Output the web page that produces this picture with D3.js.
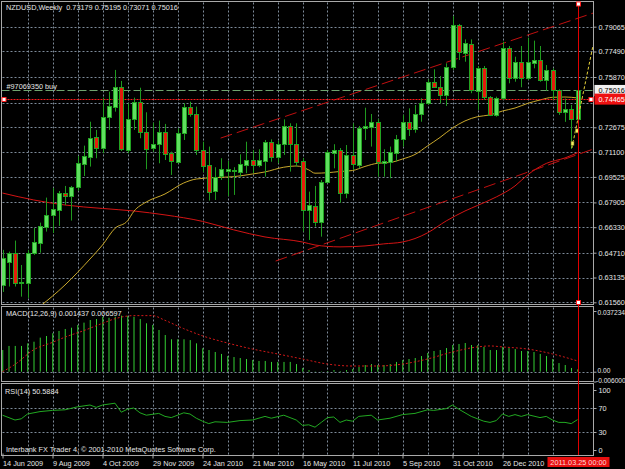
<!DOCTYPE html>
<html>
<head>
<meta charset="utf-8">
<script src="https://cdn.jsdelivr.net/npm/d3@7"></script>
<style>
  body { margin: 0; background: #000; }
  svg { display: block; }
  text { font-family: "Liberation Sans", Arial, sans-serif; font-size: 7.3px; fill: #e6e6e6; }
</style>
</head>
<body>
<svg id="chart" width="625" height="469"></svg>
<script>
// weekly NZDUSD bars, 14 Jun 2009 .. 20 Mar 2011
const open = [0.6266,0.6412,0.6468,0.6279,0.6281,0.6469,0.6535,0.6633,0.6711,0.6743,0.6849,0.6831,0.6887,0.7035,0.7081,0.7204,0.7134,0.7331,0.7399,0.7526,0.7124,0.7318,0.7430,0.7236,0.7134,0.7160,0.7236,0.7103,0.7049,0.7230,0.7395,0.7350,0.7124,0.7028,0.6863,0.6958,0.6993,0.6990,0.6986,0.7028,0.7060,0.7028,0.7056,0.7176,0.7081,0.7162,0.7278,0.7162,0.7054,0.6743,0.6768,0.6668,0.6922,0.7106,0.7124,0.6852,0.7092,0.7028,0.7261,0.7272,0.7303,0.7043,0.7049,0.7106,0.7191,0.7303,0.7255,0.7350,0.7424,0.7557,0.7526,0.7473,0.7653,0.7917,0.7741,0.7797,0.7500,0.7642,0.7462,0.7346,0.7452,0.7773,0.7579,0.7684,0.7579,0.7678,0.7695,0.7568,0.7632,0.7505,0.7367,0.7385,0.73179];
const high = [0.6489,0.6478,0.6548,0.6393,0.6489,0.6628,0.6662,0.6821,0.6882,0.6863,0.6895,0.6895,0.7085,0.7151,0.7303,0.7251,0.7456,0.7494,0.7632,0.7562,0.7420,0.7456,0.7519,0.7363,0.7297,0.7310,0.7289,0.7113,0.7261,0.7420,0.7430,0.7399,0.7176,0.7145,0.7014,0.7071,0.7054,0.7014,0.7096,0.7176,0.7124,0.7128,0.7187,0.7191,0.7183,0.7318,0.7293,0.7293,0.7073,0.6859,0.6895,0.6933,0.7124,0.7160,0.7136,0.7155,0.7293,0.7276,0.7392,0.7352,0.7320,0.7128,0.7145,0.7219,0.7346,0.7388,0.7409,0.7452,0.7572,0.7636,0.7593,0.7674,0.7974,0.7924,0.7826,0.7826,0.7657,0.7657,0.7466,0.7462,0.7811,0.7784,0.7716,0.7784,0.7837,0.7818,0.7784,0.7663,0.7642,0.7509,0.7450,0.7410,0.75195];
const low = [0.6222,0.6256,0.6256,0.6192,0.6184,0.6457,0.6471,0.6605,0.6596,0.6641,0.6774,0.6675,0.6865,0.6958,0.7018,0.7071,0.7103,0.7251,0.7367,0.7117,0.7103,0.7251,0.7198,0.7001,0.7113,0.7039,0.7060,0.6965,0.7039,0.7187,0.7335,0.7092,0.6984,0.6802,0.6806,0.6933,0.6831,0.6838,0.6954,0.6976,0.6976,0.7014,0.6954,0.7049,0.7039,0.7092,0.6986,0.7018,0.6605,0.6552,0.6637,0.6573,0.6912,0.7007,0.6789,0.6817,0.6997,0.7007,0.7187,0.7145,0.6954,0.6954,0.6944,0.7049,0.7145,0.7212,0.7233,0.7303,0.7409,0.7522,0.7420,0.7403,0.7632,0.7695,0.7684,0.7484,0.7378,0.7441,0.7339,0.7335,0.7441,0.7547,0.7557,0.7522,0.7568,0.7642,0.7557,0.7500,0.7441,0.7346,0.7302,0.7130,0.73071];
const close = [0.6438,0.6469,0.6281,0.6285,0.6469,0.6537,0.6641,0.6711,0.6749,0.6849,0.6833,0.6891,0.7039,0.7085,0.7198,0.7134,0.7331,0.7403,0.7524,0.7130,0.7320,0.7430,0.7236,0.7130,0.7160,0.7236,0.7096,0.7054,0.7230,0.7395,0.7350,0.7124,0.7024,0.6859,0.6954,0.7001,0.7000,0.6997,0.7033,0.7060,0.7028,0.7060,0.7176,0.7077,0.7162,0.7278,0.7162,0.7049,0.6743,0.6774,0.6668,0.6922,0.7113,0.7124,0.6852,0.7092,0.7035,0.7265,0.7276,0.7303,0.7049,0.7054,0.7113,0.7191,0.7303,0.7255,0.7350,0.7424,0.7557,0.7526,0.7473,0.7653,0.7917,0.7748,0.7801,0.7505,0.7642,0.7462,0.7346,0.7456,0.7773,0.7579,0.7684,0.7579,0.7684,0.7695,0.7568,0.7632,0.7505,0.7367,0.7385,0.7318,0.75016];

// moving averages, [bar, price]
const maFast = [[6,0.6130],[10,0.6266],[14,0.6431],[16,0.6520],[18,0.6626],[20,0.6673],[21,0.6733],[23,0.6793],[26,0.6844],[29,0.6914],[31,0.6939],[34,0.6948],[37,0.6954],[40,0.6971],[42,0.6984],[45,0.7014],[47,0.7022],[49,0.6997],[50,0.6976],[52,0.6979],[54,0.6987],[56,0.6993],[58,0.7019],[60,0.7039],[62,0.7044],[64,0.7066],[66,0.7095],[68,0.7149],[70,0.7203],[72,0.7263],[74,0.7308],[76,0.7335],[78,0.7346],[80,0.7371],[82,0.7390],[84,0.7419],[86,0.7441],[88,0.7458],[90,0.7460],[92,0.7454]];
const maSlow = [[0,0.6850],[5,0.6806],[10,0.6774],[16,0.6752],[21,0.6736],[26,0.6711],[32,0.6670],[37,0.6616],[42,0.6571],[48,0.6539],[50,0.6520],[54,0.6508],[58,0.6514],[61,0.6527],[64,0.6539],[66,0.6561],[68,0.6597],[71,0.6673],[74,0.6736],[76,0.6771],[79,0.6825],[82,0.6895],[84,0.6965],[87,0.7038],[90,0.7073],[92,0.7106]];

// channel lines and drawn objects
const channelUp = [[34.9,0.7199],[94.5,0.7993]];
const channelDown = [[43.7,0.6418],[94.5,0.7129]];
const projection = [[91.1,0.7136],[94.5,0.7790]];
const projMarks = [[91.2,0.7166],[91.9,0.7245]];
const orderPrice = 0.75016, bidPrice = 0.75016, levelPrice = 0.74465;

// MACD(12,26,9)
const macdMain = [0.0133,0.0158,0.0158,0.0158,0.0174,0.0184,0.0209,0.0219,0.0236,0.0250,0.0262,0.0270,0.0287,0.0301,0.0317,0.0323,0.0337,0.0331,0.0337,0.0344,0.0342,0.0337,0.0323,0.0297,0.0287,0.0256,0.0225,0.0199,0.0199,0.0199,0.0194,0.0174,0.0144,0.0133,0.0121,0.0109,0.0096,0.0090,0.0084,0.0078,0.0072,0.0066,0.0066,0.0060,0.0060,0.0060,0.0060,0.0047,0.0023,0.0010,-0.0002,-0.0002,0.0004,0.0010,0.0004,0.0010,0.0017,0.0029,0.0041,0.0047,0.0041,0.0041,0.0047,0.0060,0.0072,0.0078,0.0084,0.0096,0.0115,0.0127,0.0133,0.0145,0.0164,0.0170,0.0176,0.0164,0.0164,0.0152,0.0133,0.0133,0.0152,0.0145,0.0139,0.0127,0.0127,0.0121,0.0109,0.0096,0.0078,0.0053,0.0041,0.0023,0.001437];
const macdSignal = [[0,0.0000],[2,0.0045],[5,0.0135],[8,0.0180],[10,0.0212],[13,0.0252],[16,0.0297],[18,0.0325],[21,0.0344],[24,0.0344],[26,0.0315],[29,0.0264],[32,0.0220],[36,0.0176],[40,0.0139],[44,0.0109],[48,0.0078],[52,0.0047],[56,0.0035],[60,0.0035],[64,0.0047],[68,0.0078],[72,0.0121],[76,0.0152],[78,0.0158],[80,0.0152],[84,0.0139],[88,0.0109],[92,0.006597]];

// RSI(14), [bar, value]
const rsi = [[0,58],[2,50],[3,52],[4,60],[6,64],[8,66],[10,67],[12,72],[14,75],[15,71],[16,75],[18,78],[19,63],[20,68],[21,70],[22,62],[23,58],[25,61],[26,56],[27,54],[29,62],[30,60],[31,53],[32,48],[33,44],[34,47],[36,46],[38,49],[40,50],[42,56],[43,53],[45,58],[46,54],[47,50],[48,41],[49,42],[50,38],[51,46],[52,54],[53,55],[54,46],[55,50],[56,48],[57,56],[59,58],[60,50],[62,53],[64,59],[66,61],[68,67],[69,66],[71,69],[72,75],[73,68],[75,56],[76,52],[77,48],[78,46],[79,49],[80,60],[81,56],[82,59],[83,56],[84,59],[86,54],[87,56],[88,50],[89,46],[90,46],[91,44],[92,50.5884]];

// axis labels
const priceGrid = [0.79065,0.77490,0.75870,0.74250,0.72675,0.71100,0.69525,0.67905,0.66330,0.64710,0.63135,0.61560];
const priceTicks = [0.79065,0.77490,0.75870,0.72675,0.71100,0.69525,0.67905,0.66330,0.64710,0.63135,0.61560];
const timeTicks = [0,8,16,24,32,40,48,56,64,72,80];
const timeLabels = ["14 Jun 2009","9 Aug 2009","4 Oct 2009","29 Nov 2009","24 Jan 2010","21 Mar 2010","16 May 2010","11 Jul 2010","5 Sep 2010","31 Oct 2010","26 Dec 2010"];
const rsiTicks = [100,70,30,0];
const macdTicks = [0.037234, 0, -0.006];
const macdTickText = ['0.037234', '0.00', '-0.006000'];

const L = 1.5, R = 593.5;
const panels = { main: [1.5, 304.5], macd: [306.5, 381.5], rsi: [383.5, 455.5] };

const svg = d3.select('#chart');
svg.append('rect').attr('width', 625).attr('height', 469).attr('fill', '#000');

const x = d3.scaleLinear().domain([0, 92]).range([2.5, 577.5]);
const y = d3.scaleLinear().domain([0.6156, 0.79065]).range([302.3, 26.7]);
const yMacd = d3.scaleLinear().domain([-0.006, 0.037234]).range([381.5, 311]);
const yRsi = d3.scaleLinear().domain([0, 100]).range([450, 390]);

const defs = svg.append('defs');
Object.entries(panels).forEach(([k, p]) => {
  defs.append('clipPath').attr('id', 'clip-' + k)
    .append('rect').attr('x', L).attr('y', p[0]).attr('width', R - L).attr('height', p[1] - p[0]);
});

const gridColor = '#7d8a99';
const grid = svg.append('g').attr('stroke', gridColor).attr('stroke-dasharray', '2,2').attr('stroke-width', 1);

// vertical grid through all panels
d3.range(4, 93, 4).forEach((i) => {
  const gx = Math.round(x(i)) + 0.5;
  Object.values(panels).forEach((p) => {
    grid.append('line').attr('x1', gx).attr('x2', gx).attr('y1', p[0] + 1).attr('y2', p[1] - 1);
  });
});
priceGrid.forEach((t) => {
  const gy = Math.round(y(t)) + 0.5;
  grid.append('line').attr('x1', L + 1).attr('x2', R).attr('y1', gy).attr('y2', gy);
});
[Math.round(yMacd(0)) + 0.5].forEach((gy) => {
  grid.append('line').attr('x1', L + 1).attr('x2', R).attr('y1', gy).attr('y2', gy);
});
[70, 30].forEach((t) => {
  const gy = Math.round(yRsi(t)) + 0.5;
  grid.append('line').attr('x1', L + 1).attr('x2', R).attr('y1', gy).attr('y2', gy);
});

// main panel content
const main = svg.append('g').attr('clip-path', 'url(#clip-main)');

const line = d3.line().x((d) => x(d[0])).y((d) => y(d[1]));

main.append('path').datum(maSlow)
  .attr('d', line.curve(d3.curveMonotoneX))
  .attr('fill', 'none').attr('stroke', '#d41414').attr('stroke-width', 1);

main.append('path').datum(maFast)
  .attr('d', line.curve(d3.curveMonotoneX))
  .attr('fill', 'none').attr('stroke', '#c9a82c').attr('stroke-width', 1);

[channelUp, channelDown].forEach((c) => {
  main.append('path').datum(c)
    .attr('d', d3.line().x((d) => x(d[0])).y((d) => y(d[1])))
    .attr('fill', 'none').attr('stroke', '#c01010').attr('stroke-width', 1)
    .attr('stroke-dasharray', '12,5');
});

// order line and horizontal level
const oy = Math.round(y(orderPrice)) + 0.5;
main.append('line').attr('x1', L).attr('x2', R).attr('y1', oy).attr('y2', oy)
  .attr('stroke', '#6fa46f').attr('stroke-dasharray', '8,3');
const ly = Math.round(y(levelPrice)) + 0.5;
main.append('line').attr('x1', L).attr('x2', R).attr('y1', ly).attr('y2', ly)
  .attr('stroke', '#ff1a1a').attr('stroke-dasharray', '2,1');

// candles
const bars = d3.range(open.length);
const cg = main.append('g');
bars.forEach((i) => {
  const cx = Math.round(x(i)) + 0.5;
  const up = close[i] >= open[i];
  cg.append('line').attr('x1', cx).attr('x2', cx)
    .attr('y1', y(high[i])).attr('y2', y(low[i]))
    .attr('stroke', '#1f9a1f');
  const top = Math.round(y(Math.max(open[i], close[i]))) + 0.5;
  const bot = Math.round(y(Math.min(open[i], close[i]))) + 0.5;
  cg.append('rect').attr('x', cx - 2).attr('width', 4)
    .attr('y', top).attr('height', Math.max(1, bot - top))
    .attr('fill', up ? '#5fe05f' : '#e41c0c')
    .attr('stroke', '#22a322').attr('stroke-width', 1);
});

// yellow projection
main.append('path').datum(projection)
  .attr('d', d3.line().x((d) => x(d[0])).y((d) => y(d[1])))
  .attr('fill', 'none').attr('stroke', '#e6d23a').attr('stroke-dasharray', '3,2');
projMarks.forEach((d) => {
  main.append('rect').attr('x', x(d[0]) - 1.5).attr('y', y(d[1]) - 2).attr('width', 3).attr('height', 4)
    .attr('fill', '#f4f060').attr('stroke', '#6a6a20').attr('stroke-width', 0.6);
});

// MACD panel
const macd = svg.append('g').attr('clip-path', 'url(#clip-macd)');
macdMain.forEach((v, i) => {
  const hx = x(i) + 0.25;
  macd.append('line').attr('x1', hx).attr('x2', hx)
    .attr('y1', yMacd(0)).attr('y2', yMacd(v))
    .attr('stroke', '#34d034').attr('stroke-width', 1);
});
macd.append('path').datum(macdSignal)
  .attr('d', d3.line().x((d) => x(d[0])).y((d) => yMacd(d[1])).curve(d3.curveMonotoneX))
  .attr('fill', 'none').attr('stroke', '#d01818').attr('stroke-dasharray', '2,2');

// RSI panel
const rsiG = svg.append('g').attr('clip-path', 'url(#clip-rsi)');
rsiG.append('path').datum(rsi)
  .attr('d', d3.line().x((d) => x(d[0])).y((d) => yRsi(d[1])))
  .attr('fill', 'none').attr('stroke', '#22a822').attr('stroke-width', 1);

// frame
const frameColor = '#a9a9a9';
Object.values(panels).forEach((p) => {
  svg.append('rect').attr('x', L).attr('y', p[0]).attr('width', R - L).attr('height', p[1] - p[0])
    .attr('fill', 'none').attr('stroke', frameColor);
});

// vertical selected line
const vx = Math.round(x(92)) + 0.5;
svg.append('line').attr('x1', vx).attr('x2', vx).attr('y1', 2).attr('y2', 455)
  .attr('stroke', '#e00000');
[[vx, 4], [vx, 302.5], [4, ly], [591, ly]].forEach((m) => {
  svg.append('rect').attr('x', m[0] - 2).attr('y', m[1] - 2).attr('width', 4).attr('height', 4)
    .attr('fill', '#ffffff').attr('stroke', '#ff2020').attr('stroke-width', 1);
});

// price axis
const yAxis = svg.append('g').attr('transform', `translate(${R},0)`)
  .call(d3.axisRight(y).tickValues(priceTicks).tickFormat(d3.format('.5f')).tickSize(3).tickPadding(2));
yAxis.select('.domain').remove();
yAxis.selectAll('line').attr('stroke', frameColor);

// MACD and RSI axis labels
const macdAxis = svg.append('g').attr('transform', `translate(${R},0)`)
  .call(d3.axisRight(yMacd).tickValues(macdTicks)
    .tickFormat((d, i) => macdTickText[i]).tickSize(3).tickPadding(2));
macdAxis.select('.domain').remove();
macdAxis.selectAll('line').attr('stroke', frameColor);

const rsiAxis = svg.append('g').attr('transform', `translate(${R},0)`)
  .call(d3.axisRight(yRsi).tickValues(rsiTicks).tickSize(3).tickPadding(2));
rsiAxis.select('.domain').remove();
rsiAxis.selectAll('line').attr('stroke', frameColor);

// time axis
const xAxis = svg.append('g').attr('transform', 'translate(0,455.5)')
  .call(d3.axisBottom(x).tickValues(timeTicks).tickFormat((d) => timeLabels[timeTicks.indexOf(d)]).tickSize(3).tickPadding(2));
xAxis.select('.domain').remove();
xAxis.selectAll('line').attr('stroke', frameColor).attr('y1', -2);
xAxis.selectAll('text').attr('text-anchor', 'start').attr('dy', '0.75em');

svg.selectAll('.tick text').style('font-size', '7.3px').style('font-family', '"Liberation Sans", Arial, sans-serif').attr('fill', '#e6e6e6');

// tight labels on the MACD scale
macdAxis.selectAll('text')
  .style('font-size', '6.6px')
  .attr('x', (d) => d < 0 ? 2.5 : 4)
  .attr('dy', (d) => d === 0.037234 ? '0.55em' : d < 0 ? '0.1em' : '0.05em');

// price boxes on the axis
const boxes = [
  { v: bidPrice, bg: '#f0f0f0', fg: '#000000' },
  { v: levelPrice, bg: '#ee1111', fg: '#ffffff' }
];
boxes.forEach((b) => {
  const by = y(b.v);
  svg.append('rect').attr('x', R + 1).attr('y', by - 5.5).attr('width', 31).attr('height', 11).attr('fill', b.bg);
  svg.append('text').attr('x', R + 5).attr('y', by + 2.6).text(d3.format('.5f')(b.v)).style('fill', b.fg);
});

// time box of the vertical line
svg.append('rect').attr('x', vx - 31).attr('y', 457).attr('width', 62).attr('height', 10).attr('fill', '#e81010');
svg.append('text').attr('x', vx).attr('y', 464.8).attr('text-anchor', 'middle').text('2011.03.25 00:00').style('fill', '#ffd8d8');

// captions
svg.append('text').attr('x', 6).attr('y', 10).attr('xml:space', 'preserve')
  .text('NZDUSD,Weekly  0.73179 0.75195 0.73071 0.75016');
svg.append('text').attr('x', 6.5).attr('y', 89.3).text('#97069350 buy');
svg.append('text').attr('x', 6).attr('y', 316).text('MACD(12,26,9) 0.001437 0.006597');
svg.append('text').attr('x', 5).attr('y', 393.5).text('RSI(14) 50.5884');
svg.append('text').attr('x', 6).attr('y', 452).text('Interbank FX Trader 4, \u00a9 2001-2010 MetaQuotes Software Corp.');
</script>
</body>
</html>
